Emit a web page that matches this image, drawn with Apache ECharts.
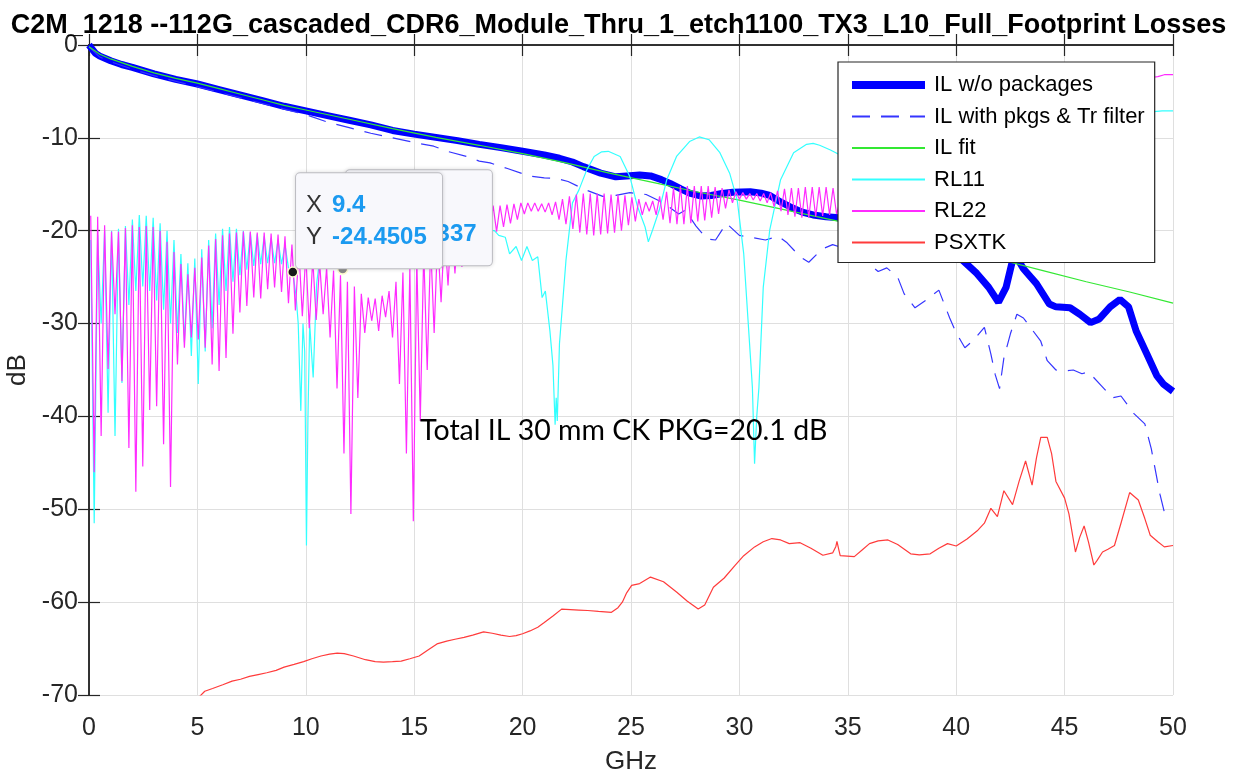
<!DOCTYPE html>
<html>
<head>
<meta charset="utf-8">
<title>Full Footprint Losses</title>
<script src="https://cdn.jsdelivr.net/npm/echarts@6.0.0/dist/echarts.min.js"></script>
<style>
  html, body { margin: 0; padding: 0; background: #fff; }
  #main { width: 1237px; height: 774px; }
</style>
</head>
<body>
<div id="main"></div>
<script>
// all values, [GHz, dB]
var chart_title = 'C2M_1218 --112G_cascaded_CDR6_Module_Thru_1_etch1100_TX3_L10_Full_Footprint Losses'
var legend_names = ['IL w/o packages', 'IL with pkgs & Tr filter', 'IL fit', 'RL11', 'RL22', 'PSXTK']
var note_text = 'Total IL 30 mm CK PKG=20.1 dB'
var note_at = [15.25, -41.6]
var tip_front = [9.4, -24.4505]
var tip_back = [11.7, -24.1337]

var il_wo_pkg = [
  [0, 0], [0.1, -0.3], [0.3, -0.9], [0.5, -1.2], [1, -1.7], [1.5, -2.1], [2, -2.4], [3, -3.1],
  [4, -3.7], [5, -4.2], [6, -4.8], [7, -5.4], [8, -6.0], [9, -6.6], [10, -7.1], [11, -7.6],
  [12, -8.1], [13, -8.6], [14, -9.2], [15, -9.6], [16, -9.95], [17, -10.3], [18, -10.7],
  [19, -11.05], [20, -11.45], [21, -11.85], [21.7, -12.2], [22.3, -12.6], [22.8, -13.1],
  [23.6, -13.8], [24.3, -14.2], [24.8, -14.1], [25.4, -14.0], [25.9, -14.1], [26.4, -14.5],
  [26.8, -14.9], [27.3, -15.5], [27.7, -15.95], [28.2, -16.25], [28.7, -16.2], [29.2, -16.0],
  [29.7, -15.85], [30.5, -15.8], [31.0, -15.95], [31.4, -16.2], [31.9, -16.9], [32.4, -17.5],
  [32.9, -18.0], [33.4, -18.3], [34.0, -18.5], [34.6, -18.6], [35.3, -18.6], [36.0, -18.8],
  [37.0, -19.4], [38.0, -20.4], [39.0, -21.6], [39.8, -22.6], [40.3, -23.2], [40.95, -24.6],
  [41.5, -26.1], [41.95, -27.7], [42.3, -26.1], [42.6, -23.2], [42.75, -22.7], [43.1, -24.1],
  [43.7, -25.7], [44.3, -27.9], [44.6, -28.2], [45.25, -28.3], [45.7, -29.0], [46.2, -29.9],
  [46.6, -29.5], [47.1, -28.2], [47.55, -27.4], [47.95, -28.2], [48.3, -30.8], [48.8, -33.3],
  [49.25, -35.6], [49.55, -36.5], [50.0, -37.3]
]

var il_with_pkg = [
  [0, -0.2], [0.5, -1.3], [1, -1.8], [2, -2.6], [3, -3.3], [4, -3.9], [5, -4.5], [6, -5.1],
  [7, -5.7], [8, -6.3], [9, -6.9], [10, -7.5], [11, -8.3], [12, -8.9], [13, -9.5], [14, -10.0],
  [15, -10.5], [15.9, -10.9], [16.6, -11.5], [17.4, -12.0], [18.0, -12.5], [18.5, -12.7],
  [19.3, -13.3], [20.3, -14.1], [21.0, -14.3], [21.6, -14.4], [22.1, -14.7], [22.9, -15.6],
  [23.7, -16.3], [24.3, -16.2], [24.95, -15.9], [25.7, -16.1], [26.5, -17.0], [27.2, -18.2],
  [27.5, -17.8], [28.0, -19.5], [28.5, -20.9], [28.9, -21.0], [29.4, -19.2], [30.0, -20.5],
  [30.5, -20.7], [31.2, -21.0], [31.8, -20.6], [32.2, -21.3], [32.8, -22.8], [33.2, -23.4],
  [33.8, -22.0], [34.3, -21.5], [35.0, -22.0], [35.7, -23.0], [36.4, -24.4], [36.8, -24.0],
  [37.3, -25.0], [37.6, -26.8], [38.1, -28.3], [38.6, -27.5], [39.2, -26.4], [39.7, -29.4],
  [40.0, -31.0], [40.4, -32.6], [40.8, -31.8], [41.3, -30.4], [41.6, -33.3], [41.8, -35.5],
  [42.0, -37.0], [42.2, -33.7], [42.5, -31.1], [42.8, -29.0], [43.1, -29.4], [43.9, -31.9],
  [44.2, -34.0], [44.6, -35.0], [45.0, -35.1], [45.4, -35.0], [45.8, -35.4], [46.1, -35.2],
  [46.7, -36.7], [47.2, -38.0], [47.6, -37.8], [48.2, -39.7], [48.7, -40.8], [49.0, -43.5],
  [49.4, -48.4], [49.6, -50.3], [50.0, -50.8]
]

var il_fit = [
  [0, -0.2], [0.5, -1.0], [1, -1.5], [2, -2.3], [3, -3.0], [4, -3.6], [5, -4.1], [6, -4.7],
  [7, -5.3], [8, -5.9], [9, -6.5], [10, -7.0], [12, -8.0], [14, -9.0], [16, -9.95],
  [18, -10.8], [20, -11.7], [22, -12.7], [24, -13.8], [26, -14.8], [28, -15.8], [30, -16.7],
  [32, -17.7], [34, -18.7], [36, -19.7], [38, -20.8], [40, -21.9], [42, -23.1], [44, -24.3],
  [46, -25.5], [48, -26.6], [50, -27.8]
]

// return-loss ripple: one peak and one trough per sweep period
var rl_f0 = 0.08
var rl_period = 0.32

var rl22_peaks = [
  -18.4, -18.5, -19.4, -20.1, -20.1, -19.7, -19.4, -19.6, -19.5, -19.6,
  -20.0, -21.2, -22.3, -23.6, -24.7, -24.0, -22.9, -21.6, -20.9, -20.5,
  -20.3, -20.2, -20.1, -20.1, -20.2, -20.2, -20.3, -20.4, -20.6, -21.5,
  -22.0, -22.5, -23.0, -23.5, -24.0, -24.3, -24.8, -25.5, -26.0, -26.8,
  -27.2, -27.3, -27.0, -26.5, -25.5, -24.5, -24.0, -23.0, -22.2, -21.5,
  -20.8, -20.0, -19.2, -18.6, -18.0, -17.6, -17.3, -17.2, -17.3, -17.3,
  -17.2, -17.1, -17.0, -17.0, -17.0, -17.1, -17.0, -16.9, -16.6, -16.3,
  -16.1, -16.0, -16.0, -16.0, -16.0, -16.1, -16.1, -16.2, -16.4, -16.6,
  -16.9, -16.8, -16.3, -15.8, -15.4, -15.2, -15.2, -15.2, -15.2, -15.2,
  -15.3, -15.4, -15.6, -15.8, -15.9, -16.0, -16.0, -16.0, -15.9, -15.7,
  -15.5, -15.4, -15.4, -15.3, -15.3, -15.3, -15.3, -15.4
]
var rl22_troughs = [
  -46.0, -42.1, -34.9, -29.0, -36.2, -43.4, -48.1, -45.4, -39.3, -38.9,
  -43.0, -47.6, -34.4, -32.6, -31.5, -31.7, -32.6, -34.4, -35.1, -33.7,
  -31.1, -28.8, -28.1, -27.2, -27.3, -26.3, -26.1, -26.6, -27.8, -28.6,
  -29.2, -30.5, -29.6, -29.0, -31.5, -37.0, -44.0, -50.5, -38.0, -31.0,
  -29.7, -30.8, -29.3, -31.5, -36.5, -44.0, -51.3, -40.5, -35.0, -31.0,
  -27.7, -25.9, -24.6, -23.9, -22.5, -21.5, -20.8, -20.3, -20.1, -19.6,
  -19.2, -18.8, -18.2, -17.9, -17.9, -18.0, -18.3, -18.8, -19.3, -19.8,
  -20.2, -20.4, -20.5, -20.4, -20.3, -20.2, -20.0, -19.4, -19.0, -18.3,
  -17.9, -18.3, -18.8, -19.2, -19.3, -19.3, -19.2, -19.0, -18.9, -18.6,
  -18.2, -17.6, -17.0, -16.6, -16.6, -16.7, -16.8, -17.0, -17.4, -17.9,
  -18.3, -18.5, -18.6, -18.6, -18.5, -18.4, -18.3, -18.2
]
var rl22_tail = [
  [34.8, -15.6], [35.5, -15.0], [36.5, -14.0], [37.5, -13.0], [38.5, -12.0], [39.5, -11.0],
  [40.5, -10.0], [41.5, -9.0], [42.5, -8.0], [43.5, -7.0], [44.5, -6.0], [45.5, -5.0],
  [46.5, -4.3], [47.5, -3.8], [48.5, -3.5], [49.0, -3.5], [49.3, -3.4], [49.6, -3.2], [50.0, -3.2]
]

var rl11_peaks = [
  -21.0, -20.5, -20.0, -20.0, -19.8, -19.5, -18.8, -18.3, -18.4, -18.6,
  -19.2, -20.0, -21.0, -22.5, -23.5, -23.0, -22.0, -21.0, -20.3, -19.8,
  -19.6, -19.8, -20.0, -20.2, -20.4, -20.6, -20.8, -21.0, -21.5
]
var rl11_troughs = [
  -51.5, -30.0, -39.6, -42.1, -36.4, -28.0, -26.5, -26.0, -26.5, -27.5,
  -28.5, -30.0, -31.0, -32.0, -33.5, -36.5, -33.0, -30.5, -28.0, -26.5,
  -25.5, -24.8, -24.2, -23.8, -23.6, -23.5, -23.5, -23.6, -24.0
]
var rl11_tail = [
  [9.4, -24.45], [9.55, -27.0], [9.65, -30.0], [9.77, -39.4], [9.87, -30.0], [9.95, -33.0],
  [10.03, -53.9], [10.1, -40.0], [10.18, -30.0], [10.26, -33.0], [10.34, -35.8], [10.5, -25.7],
  [10.7, -22.0], [10.9, -21.0], [11.2, -22.0], [11.5, -20.5], [11.8, -21.5], [12.1, -20.5],
  [12.5, -21.5], [12.8, -20.5], [13.2, -21.5], [13.6, -20.5], [14.0, -21.5], [14.4, -20.5],
  [14.8, -21.5], [15.2, -20.5], [15.6, -21.5], [16.0, -20.5], [16.4, -21.5], [16.8, -20.5],
  [17.2, -21.2], [17.6, -20.2], [18.0, -21.0], [18.4, -20.0], [18.7, -20.0], [18.9, -20.5],
  [19.2, -20.7], [19.4, -22.5], [19.7, -21.7], [19.95, -23.2], [20.2, -21.7], [20.45, -23.2],
  [20.7, -22.8], [20.9, -27.2], [21.05, -26.5], [21.26, -30.8], [21.4, -34.5], [21.5, -40.9],
  [21.55, -38.0], [21.6, -40.5], [21.7, -32.2], [22.0, -23.2], [22.3, -17.0], [22.6, -15.6],
  [22.95, -13.5], [23.3, -12.0], [23.65, -11.5], [23.95, -11.45], [24.5, -12.0], [24.95, -14.2],
  [25.3, -17.4], [25.65, -19.6], [25.8, -21.2], [26.0, -19.9], [26.3, -17.8], [26.65, -14.5],
  [27.1, -12.0], [27.7, -10.4], [28.15, -9.9], [28.6, -10.2], [29.1, -11.6], [29.55, -13.8],
  [29.9, -16.7], [30.2, -22.5], [30.4, -29.7], [30.6, -36.9], [30.7, -45.1], [30.8, -40.0],
  [30.9, -36.9], [31.1, -26.1], [31.4, -19.9], [31.9, -14.5], [32.5, -11.6], [33.1, -10.7],
  [33.4, -10.6], [33.7, -10.8], [34.2, -11.3], [34.6, -11.8], [35.5, -13.5], [36.5, -16.0],
  [37.5, -17.5], [38.5, -15.5], [39.5, -12.5], [40.5, -10.5], [41.5, -10.0], [42.5, -11.5],
  [43.5, -14.0], [44.5, -13.0], [45.5, -10.5], [46.5, -8.8], [47.5, -7.9], [48.5, -7.4],
  [49.0, -7.2], [49.5, -7.1], [50.0, -7.1]
]

var psxtk = [
  [4.85, -71.0], [5.0, -70.4], [5.34, -69.6], [5.7, -69.3], [6.17, -68.9], [6.6, -68.5],
  [6.99, -68.3], [7.4, -68.0], [7.8, -67.8], [8.2, -67.6], [8.63, -67.35], [9.0, -67.0],
  [9.46, -66.7], [9.9, -66.4], [10.28, -66.1], [10.7, -65.8], [11.1, -65.6], [11.45, -65.5],
  [11.77, -65.55], [12.2, -65.8], [12.75, -66.2], [13.2, -66.4], [13.58, -66.45], [14.0, -66.4],
  [14.4, -66.35], [14.8, -66.1], [15.23, -65.8], [15.6, -65.2], [16.05, -64.5], [16.5, -64.2],
  [16.88, -64.0], [17.3, -63.8], [17.7, -63.55], [18.2, -63.2], [18.6, -63.35], [19.0, -63.55],
  [19.4, -63.7], [19.7, -63.6], [20.0, -63.4], [20.34, -63.1], [20.7, -62.7], [21.0, -62.2],
  [21.4, -61.5], [21.8, -60.75], [22.2, -60.8], [22.6, -60.85], [23.0, -60.9], [23.5, -61.0],
  [24.1, -61.1], [24.4, -60.6], [24.6, -60.0], [24.8, -59.0], [25.03, -58.2], [25.4, -58.0],
  [25.9, -57.3], [26.5, -57.8], [27.1, -58.9], [27.6, -59.9], [28.1, -60.75], [28.4, -60.3],
  [28.8, -58.4], [29.3, -57.4], [29.8, -56.05], [30.2, -55.0], [30.7, -54.05], [31.1, -53.5],
  [31.5, -53.15], [31.9, -53.3], [32.3, -53.7], [32.8, -53.6], [33.3, -54.2], [33.85, -54.95],
  [34.3, -54.7], [34.45, -54.0], [34.5, -53.45], [34.6, -54.5], [34.65, -55.0], [35.3, -55.1],
  [35.7, -54.3], [36.0, -53.7], [36.4, -53.4], [36.85, -53.3], [37.3, -53.8], [37.9, -54.8],
  [38.3, -54.9], [38.8, -54.8], [39.2, -54.2], [39.6, -53.7], [40.0, -53.95], [40.5, -53.2],
  [41.0, -52.25], [41.3, -51.5], [41.6, -49.9], [41.9, -50.8], [42.2, -48.0], [42.6, -49.5],
  [42.9, -47.0], [43.2, -44.8], [43.5, -47.4], [43.7, -44.5], [43.9, -42.25], [44.2, -42.25],
  [44.4, -44.0], [44.6, -47.0], [45.0, -48.8], [45.2, -50.5], [45.5, -54.6], [45.7, -53.0],
  [45.9, -51.8], [46.1, -53.5], [46.35, -56.0], [46.5, -55.5], [46.75, -54.6], [47.0, -54.3],
  [47.3, -53.9], [47.6, -51.5], [48.0, -48.2], [48.4, -49.0], [48.7, -51.0], [48.95, -52.8],
  [49.3, -53.5], [49.6, -54.05], [50.0, -53.9]
]

function ripple(peaks, troughs) {
  var out = []
  for (var k = 0; k < peaks.length; k++) {
    out.push([rl_f0 + k * rl_period, peaks[k]])
    out.push([rl_f0 + k * rl_period + rl_period / 2, troughs[k]])
  }
  return out
}

var rl11 = ripple(rl11_peaks, rl11_troughs).concat(rl11_tail)
var rl22 = ripple(rl22_peaks, rl22_troughs).concat(rl22_tail)

var ink = '#262626'
var sans = 'Liberation Sans, Arial, Helvetica, sans-serif'

function traceSeries(name, data, color, width, dash) {
  return {
    name: name,
    type: 'line',
    data: data,
    symbol: 'none',
    showSymbol: false,
    animation: false,
    lineStyle: { color: color, width: width, type: dash || 'solid' },
    itemStyle: { color: color },
    z: 2
  }
}

function tipSeries(point, dotColor, z) {
  return {
    type: 'scatter',
    data: [point],
    symbolSize: 10,
    z: z,
    animation: false,
    itemStyle: { color: dotColor, borderColor: '#fffbd0', borderWidth: 1.5, opacity: 1 },
    label: {
      show: true,
      position: [9, -93],
      width: 126,
      padding: [16, 10, 15, 10],
      backgroundColor: '#f8f8fc',
      borderColor: '#c6c6cc',
      borderWidth: 1,
      borderRadius: 4,
      shadowBlur: 4,
      shadowColor: 'rgba(0,0,0,0.12)',
      formatter: function(p) {
        return '{k|X}{v|' + p.value[0] + '}\n{k|Y}{v|' + p.value[1] + '}'
      },
      rich: {
        k: { fontFamily: sans, fontSize: 24, color: '#333333', lineHeight: 32, width: 26 },
        v: { fontFamily: sans, fontSize: 24, fontWeight: 'bold', color: '#1b9af0', lineHeight: 32 }
      }
    },
    emphasis: { disabled: true },
    tooltip: { show: false }
  }
}

var legend_items = legend_names.map(function(n, i) {
  return i === 0 ? { name: n, lineStyle: { width: 8 } } : { name: n }
})

var chart = echarts.init(document.getElementById('main'))
chart.setOption({
  backgroundColor: '#ffffff',
  animation: false,
  title: {
    text: chart_title,
    left: 'center',
    top: 7,
    textStyle: { fontFamily: sans, fontSize: 27, fontWeight: 'bold', color: '#000000' }
  },
  grid: { left: 89, right: 64, top: 45, bottom: 79, outerBoundsMode: 'none', containLabel: false },
  legend: {
    data: legend_items,
    orient: 'vertical',
    left: 838,
    top: 62,
    padding: [11, 10, 8, 10],
    itemWidth: 73,
    itemHeight: 14,
    itemGap: 7.5,
    backgroundColor: '#ffffff',
    borderColor: ink,
    borderWidth: 1.2,
    borderRadius: 0,
    itemStyle: { color: 'rgba(0,0,0,0)', borderWidth: 0, opacity: 0 },
    textStyle: { fontFamily: sans, fontSize: 22, color: '#000000', lineHeight: 24, padding: [0, 0, 0, 4] }
  },
  xAxis: [{
    type: 'value',
    min: 0,
    max: 50,
    interval: 5,
    position: 'bottom',
    name: 'GHz',
    nameLocation: 'middle',
    nameGap: 54,
    nameTextStyle: { fontFamily: sans, fontSize: 26, color: ink },
    axisLine: { lineStyle: { color: ink, width: 1.5 } },
    axisTick: { inside: true, length: 11, lineStyle: { color: ink, width: 1.2 } },
    axisLabel: { fontFamily: sans, fontSize: 25, color: ink, margin: 21 },
    splitLine: { show: true, lineStyle: { color: '#dfdfdf', width: 1 } }
  }, {
    type: 'value',
    min: 0,
    max: 50,
    interval: 5,
    position: 'top',
    axisLine: { lineStyle: { color: ink, width: 1.5 } },
    axisTick: { inside: true, length: 11, lineStyle: { color: ink, width: 1.2 } },
    axisLabel: { show: false },
    splitLine: { show: false }
  }],
  yAxis: [{
    type: 'value',
    min: -70,
    max: 0,
    interval: 10,
    position: 'left',
    name: 'dB',
    nameLocation: 'middle',
    nameGap: 47,
    nameRotate: 90,
    nameTextStyle: { fontFamily: sans, fontSize: 26, color: ink },
    axisLine: { show: true, lineStyle: { color: ink, width: 1.5 } },
    axisTick: { show: true, inside: true, length: 11, lineStyle: { color: ink, width: 1.2 } },
    axisLabel: { fontFamily: sans, fontSize: 25, color: ink, margin: 11 },
    splitLine: { show: true, lineStyle: { color: '#dfdfdf', width: 1 } }
  }, {
    type: 'value',
    min: -70,
    max: 0,
    interval: 10,
    position: 'right',
    axisLine: { show: true, lineStyle: { color: ink, width: 1.5 } },
    axisTick: { show: true, inside: true, length: 11, lineStyle: { color: ink, width: 1.2 } },
    axisLabel: { show: false },
    splitLine: { show: false }
  }],
  series: [
    traceSeries(legend_names[0], il_wo_pkg, '#0000ff', 7),
    traceSeries(legend_names[1], il_with_pkg, '#3535ff', 1.2, [18, 11]),
    traceSeries(legend_names[2], il_fit, '#33e833', 1.2),
    traceSeries(legend_names[3], rl11, '#33ffff', 1.2),
    traceSeries(legend_names[4], rl22, '#ff2bff', 1.2),
    traceSeries(legend_names[5], psxtk, '#ff3b3b', 1.2),
    tipSeries(tip_back, '#8a8a8a', 20),
    tipSeries(tip_front, '#1a1a1a', 21),
    {
      type: 'scatter',
      data: [note_at],
      symbolSize: 1,
      itemStyle: { color: 'rgba(0,0,0,0)', opacity: 1 },
      z: 15,
      emphasis: { disabled: true },
      label: {
        show: true,
        position: 'right',
        distance: 0,
        formatter: note_text,
        fontFamily: 'Lato, Open Sans, sans-serif',
        fontSize: 28.5,
        color: '#000000'
      }
    }
  ]
})
</script>
</body>
</html>
